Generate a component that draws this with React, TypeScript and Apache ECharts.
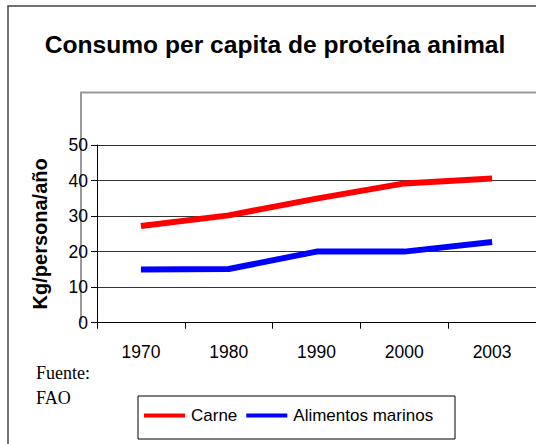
import React, { useEffect, useRef } from "react";
import * as echarts from "echarts";

const years = ["1970", "1980", "1990", "2000", "2003"];
const carne = [27.2, 30.2, 34.9, 39.2, 40.6];
const marinos = [15, 15.1, 20, 20, 22.7];
const yTicks = [0, 10, 20, 30, 40, 50];

export default function App() {
  const ref = useRef<HTMLDivElement>(null);
  useEffect(() => {
    if (!ref.current) return;
    const chart = echarts.init(ref.current, null, { renderer: "svg" });
    const sans = "Liberation Sans, Arial, sans-serif";
    chart.setOption({
      animation: false,
      backgroundColor: "#fff",
      grid: { left: 97, top: 145, right: -8.5, bottom: 121.3, containLabel: false },
      title: {
        text: "Consumo per capita de proteína animal",
        left: 270,
        top: 27,
        textAlign: "center",
        textStyle: { fontFamily: sans, fontWeight: "bold", fontSize: 24.6, color: "#000" },
      },
      legend: {
        left: 144,
        top: 407,
        itemWidth: 41,
        itemHeight: 4,
        itemGap: 9,
        icon: "rect",
        padding: 0,
        textStyle: { fontFamily: sans, fontSize: 17, color: "#000", padding: [0, 0, 0, 1] },
        data: ["Carne", "Alimentos marinos"],
      },
      xAxis: {
        type: "category",
        data: years,
        boundaryGap: true,
        axisLine: { lineStyle: { color: "#000", width: 1 } },
        axisTick: { show: true, length: 6, lineStyle: { color: "#000" } },
        axisLabel: { fontFamily: sans, fontSize: 17.5, color: "#000", margin: 20 },
      },
      yAxis: {
        type: "value",
        min: yTicks[0],
        max: yTicks[yTicks.length - 1],
        interval: 10,
        name: "Kg/persona/año",
        nameLocation: "middle",
        nameGap: 47,
        nameRotate: 90,
        nameTextStyle: { fontFamily: sans, fontWeight: "bold", fontSize: 20, color: "#000" },
        axisLine: { show: true, lineStyle: { color: "#000", width: 1 } },
        axisTick: { show: true, length: 6, lineStyle: { color: "#000" } },
        axisLabel: { fontFamily: sans, fontSize: 17.5, color: "#000", margin: 9 },
        splitLine: { show: true, lineStyle: { color: "#333", width: 1 } },
      },
      graphic: [
        {
          type: "polyline",
          shape: { points: [[600, 6], [8, 6], [8, 500]] },
          style: { fill: "none", stroke: "#444", lineWidth: 1.5 },
          z: 100,
          silent: true,
        },
        {
          type: "polyline",
          shape: { points: [[600, 92.5], [81, 92.5], [81, 322.5]] },
          style: { fill: "none", stroke: "#999", lineWidth: 2 },
          z: -1,
          silent: true,
        },
        {
          type: "rect",
          shape: { x: 138, y: 396, width: 317, height: 43 },
          style: { fill: "none", stroke: "#000", lineWidth: 1 },
          silent: true,
        },
        {
          type: "text",
          x: 36,
          y: 360,
          style: {
            text: "Fuente:\nFAO",
            font: "18px 'Liberation Serif', 'Times New Roman', serif",
            fill: "#000",
            lineHeight: 25,
          },
          silent: true,
        },
      ],
      series: [
        {
          name: "Carne",
          type: "line",
          data: carne,
          symbol: "none",
          color: "#ff0000",
          lineStyle: { color: "#ff0000", width: 6, cap: "butt" },
        },
        {
          name: "Alimentos marinos",
          type: "line",
          data: marinos,
          symbol: "none",
          color: "#0000ff",
          lineStyle: { color: "#0000ff", width: 6, cap: "butt" },
        },
      ],
    });
    return () => chart.dispose();
  }, []);
  return (
    <div
      ref={ref}
      style={{ position: "fixed", left: 0, top: 0, width: 536, height: 444 }}
    />
  );
}
